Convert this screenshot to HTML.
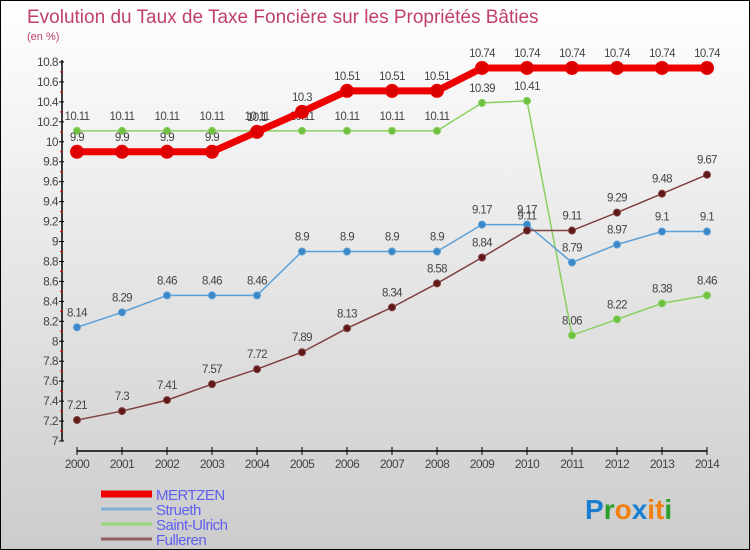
<!DOCTYPE html>
<html><head><meta charset="utf-8">
<style>
body{margin:0}
#c{width:750px;height:550px;position:relative;overflow:hidden;box-sizing:border-box;border:1px solid #000;background:linear-gradient(#ffffff,#cccccc);font-family:"Liberation Sans",sans-serif}
svg text{font-family:"Liberation Sans",sans-serif}
</style></head><body>
<div id="c">
<svg id="s" width="750" height="550">
<text x="26" y="22" font-size="19" fill="#c0406a">Evolution du Taux de Taxe Foncière sur les Propriétés Bâties</text>
<text x="26" y="39" font-size="11" fill="#c0406a">(en %)</text>
<text x="584" y="518" font-size="28" font-weight="bold"><tspan fill="#1a7fd0">P</tspan><tspan fill="#2aa02a">r</tspan><tspan fill="#f08010">o</tspan><tspan fill="#1a7fd0">x</tspan><tspan fill="#f08010">it</tspan><tspan fill="#2aa02a">i</tspan></text>
</svg>
</div>
<script>
const years=[2000,2001,2002,2003,2004,2005,2006,2007,2008,2009,2010,2011,2012,2013,2014];
const yTicks=[7,7.2,7.4,7.6,7.8,8,8.2,8.4,8.6,8.8,9,9.2,9.4,9.6,9.8,10,10.2,10.4,10.6,10.8];
const mertzen=[9.9,9.9,9.9,9.9,10.1,10.3,10.51,10.51,10.51,10.74,10.74,10.74,10.74,10.74,10.74];
const strueth=[8.14,8.29,8.46,8.46,8.46,8.9,8.9,8.9,8.9,9.17,9.17,8.79,8.97,9.1,9.1];
const saintUlrich=[10.11,10.11,10.11,10.11,10.11,10.11,10.11,10.11,10.11,10.39,10.41,8.06,8.22,8.38,8.46];
const fulleren=[7.21,7.3,7.41,7.57,7.72,7.89,8.13,8.34,8.58,8.84,9.11,9.11,9.29,9.48,9.67];
const NS="http://www.w3.org/2000/svg",s=document.getElementById('s');
const X=i=>76+i*(630/(years.length-1));
const Y=v=>440-(v-7)*(379/3.8);
function el(t,a,p){const e=document.createElementNS(NS,t);for(const k in a)e.setAttribute(k,a[k]);(p||s).appendChild(e);return e;}
let ax=el('line',{x1:61,y1:59,x2:61,y2:440,stroke:'#000','stroke-width':1.5});

let bx=el('line',{x1:76,y1:450,x2:706,y2:450,stroke:'#000','stroke-width':1.5});

yTicks.forEach((v,i)=>{
  el('line',{x1:58,y1:Y(v),x2:63,y2:Y(v),stroke:'#000'});
  if(i<yTicks.length-1)el('line',{x1:59,y1:Y(v+0.1),x2:62,y2:Y(v+0.1),stroke:'#e00'});
  const t=el('text',{x:57,y:Y(v)+4,'font-size':12,fill:'#444','text-anchor':'end','letter-spacing':'-0.6'});
  t.textContent=String(v);
  
});
years.forEach((y,i)=>{
  el('line',{x1:X(i),y1:446,x2:X(i),y2:454,stroke:'#000'});
  const t=el('text',{x:X(i),y:467,'font-size':12,fill:'#444','text-anchor':'middle','letter-spacing':'-0.6'});
  t.textContent=String(y);
  
});
function series(name,data,color,w,r,fill){
  const g=el('g',{});
  
  el('polyline',{points:data.map((v,i)=>X(i)+','+Y(v)).join(' '),fill:'none',stroke:color,'stroke-width':w},g);
  data.forEach((v,i)=>{
    const c=el('circle',{cx:X(i),cy:Y(v),r:r,fill:fill,stroke:color,'stroke-width':1},g);
    
    const t=el('text',{x:X(i),y:Y(v)-11,'font-size':11.5,fill:'#444','text-anchor':'middle','letter-spacing':'-0.6'},g);
    t.textContent=String(v);
    
  });
}
series('saint-ulrich',saintUlrich,'#88d060',1.5,3.5,'#70c040');
series('strueth',strueth,'#5aa0d8',1.5,3.5,'#3a88c8');
series('fulleren',fulleren,'#804040',1.5,3.5,'#601818');
series('mertzen',mertzen,'#ee0000',7,6.5,'#dd0000');
const leg=[['MERTZEN','#ee0000',7],['Strueth','#80b0d8',3],['Saint-Ulrich','#98d878',3],['Fulleren','#906060',3]];
leg.forEach((l,i)=>{
  const y=493+i*15;
  const g=el('g',{});
  
  el('line',{x1:100,y1:y,x2:151,y2:y,stroke:l[1],'stroke-width':l[2]},g);
  const t=el('text',{x:155,y:y+6,'font-size':15,fill:'#6060f0','letter-spacing':'-0.5'},g);
  t.textContent=l[0];
});
</script>
</body></html>
